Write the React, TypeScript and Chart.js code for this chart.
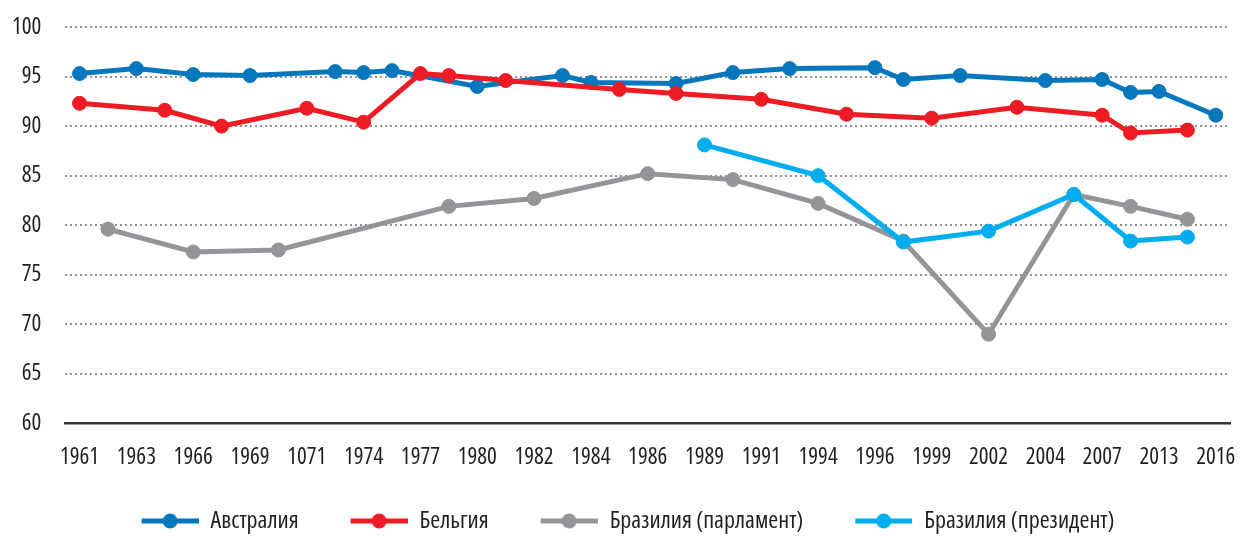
import React, { useEffect, useRef } from "react";
import { Chart, registerables } from "chart.js";

Chart.register(...registerables);

// Axis tick labels (as printed in the source, including "1071")
const tickLabels = ["1961", "1963", "1966", "1969", "1071", "1974", "1977", "1980", "1982", "1984", "1986", "1989", "1991", "1994", "1996", "1999", "2002", "2004", "2007", "2013", "2016"];

// Categories: each labelled year plus one unlabelled half-step slot between neighbours
const categories: string[] = tickLabels.flatMap((t, i) => (i < tickLabels.length - 1 ? [t, ""] : [t]));

const seriesNames = ["Австралия", "Бельгия", "Бразилия (парламент)", "Бразилия (президент)"];
const seriesColors = ["#0677bd", "#ed1c24", "#939598", "#00aeef"];

// Turnout, %, per category slot (null = no election in that slot)
const _ = null;
const australia = [95.3, _, 95.8, _, 95.2, _, 95.1, _, _, 95.5, 95.4, 95.6, _, _, 94.0, _, _, 95.1, 94.4, _, _, 94.3, _, 95.4, _, 95.8, _, _, 95.9, 94.7, _, 95.1, _, _, 94.6, _, 94.7, 93.4, 93.5, _, 91.1];
const belgium = [92.3, _, _, 91.6, _, 90.0, _, _, 91.8, _, 90.4, _, 95.3, 95.1, _, 94.6, _, _, _, 93.7, _, 93.3, _, _, 92.7, _, _, 91.2, _, _, 90.8, _, _, 91.9, _, _, 91.1, 89.3, _, 89.6, _];
const brazilParliament = [_, 79.6, _, _, 77.3, _, _, 77.5, _, _, _, _, _, 81.9, _, _, 82.7, _, _, _, 85.2, _, _, 84.6, _, _, 82.2, _, _, 78.4, _, _, 69.0, _, _, 83.1, _, 81.9, _, 80.6, _];
const brazilPresident = [_, _, _, _, _, _, _, _, _, _, _, _, _, _, _, _, _, _, _, _, _, _, 88.1, _, _, _, 85.0, _, _, 78.3, _, _, 79.4, _, _, 83.1, _, 78.4, _, 78.8, _];

const yTicks = [60, 65, 70, 75, 80, 85, 90, 95, 100];

const FAMILY = "'Open Sans', 'Roboto Condensed', sans-serif";
const STRETCH = "normal condensed"; // passed through Chart.js font weight slot -> condensed width axis
const TEXT = "#231f20";

const GAP = 14; // blank lead-in of each legend marker (extra spacing between legend items)

function legendMarker(color: string): HTMLCanvasElement {
  const c = document.createElement("canvas");
  c.width = 57 + GAP;
  c.height = 16;
  const g = c.getContext("2d")!;
  g.strokeStyle = color;
  g.lineWidth = 5;
  g.beginPath();
  g.moveTo(GAP, 8);
  g.lineTo(GAP + 57, 8);
  g.stroke();
  g.fillStyle = color;
  g.beginPath();
  g.arc(GAP + 28.5, 8, 7.5, 0, Math.PI * 2);
  g.fill();
  return c;
}

export default function App() {
  const ref = useRef<HTMLCanvasElement | null>(null);

  useEffect(() => {
    if (!ref.current) return;
    const seriesData = [australia, belgium, brazilParliament, brazilPresident];
    const markers = seriesColors.map(legendMarker);
    const chart = new Chart(ref.current, {
      type: "line",
      data: {
        labels: categories,
        datasets: seriesData.map((d, i) => ({
          label: seriesNames[i],
          data: d,
          borderColor: seriesColors[i],
          backgroundColor: seriesColors[i],
          pointBackgroundColor: seriesColors[i],
          pointBorderColor: seriesColors[i],
          borderWidth: 5,
          pointRadius: 7,
          pointBorderWidth: 1,
          tension: 0,
          spanGaps: true,
          order: 4 - i,
        })),
      },
      options: {
        animation: false,
        responsive: true,
        maintainAspectRatio: false,
        layout: { padding: { top: 19, left: 4, right: 11, bottom: 0 } },
        plugins: {
          tooltip: { enabled: false },
          legend: {
            position: "bottom",
            labels: {
              usePointStyle: true,
              pointStyleWidth: 57 + GAP,
              boxHeight: 16,
              padding: 38,
              color: TEXT,
              font: { family: FAMILY, size: 24, weight: STRETCH as any },
              generateLabels: (ch: any) =>
                ch.data.datasets.map((ds: any, i: number) => ({
                  text: ds.label,
                  fillStyle: ds.borderColor,
                  strokeStyle: ds.borderColor,
                  lineWidth: 0,
                  pointStyle: markers[i],
                  hidden: false,
                  datasetIndex: i,
                  fontColor: TEXT,
                })),
            },
          },
        },
        scales: {
          x: {
            type: "category",
            offset: true,
            grid: { display: true, drawOnChartArea: false, drawTicks: true, tickLength: 20, tickColor: "rgba(0,0,0,0)" },
            border: { display: true, color: "#333333", width: 2.5 },
            ticks: {
              autoSkip: false,
              maxRotation: 0,
              minRotation: 0,
              padding: 0,
              color: TEXT,
              font: { family: FAMILY, size: 23, weight: STRETCH as any },
              callback: (_v: any, index: number) => categories[index],
            },
          },
          y: {
            min: 60,
            max: 100,
            afterBuildTicks: (axis: any) => {
              axis.ticks = yTicks.map((v) => ({ value: v }));
            },
            grid: {
              drawTicks: true,
              tickLength: 24,
              tickColor: "rgba(0,0,0,0)",
              lineWidth: 2,
              color: (ctx: any) => (ctx.tick && ctx.tick.value === 60 ? "rgba(0,0,0,0)" : "#8f9194"),
            },
            border: { display: false, dash: [2, 3] },
            ticks: {
              padding: 0,
              color: TEXT,
              font: { family: FAMILY, size: 23, weight: STRETCH as any },
            },
          },
        },
      },
    });
    return () => chart.destroy();
  }, []);

  return (
    <div style={{ position: "fixed", left: "8px", top: "8px", width: "1233px", height: "535px" }}>
      <canvas ref={ref} />
    </div>
  );
}
